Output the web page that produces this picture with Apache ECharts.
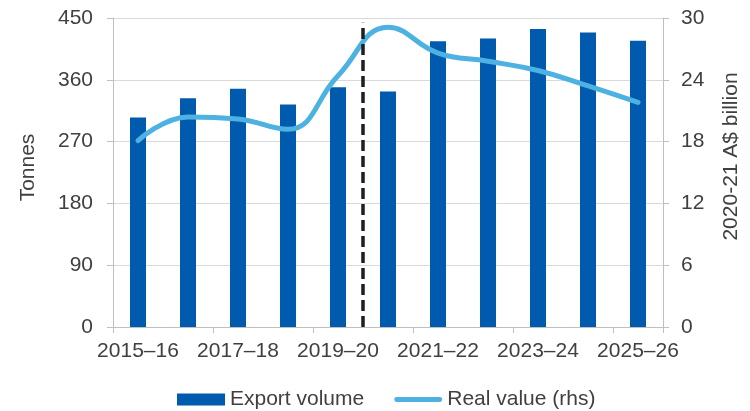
<!DOCTYPE html>
<html>
<head>
<meta charset="utf-8">
<script src="https://cdn.jsdelivr.net/npm/echarts@6/dist/echarts.min.js"></script>
<style>
  html, body { margin: 0; padding: 0; background: #fff; }
  #chart { width: 750px; height: 411px; }
</style>
</head>
<body>
<div id="chart"></div>
<script>
const categories = ['2015–16', '2016–17', '2017–18', '2018–19', '2019–20', '2020–21',
  '2021–22', '2022–23', '2023–24', '2024–25', '2025–26']
const exportVolume = [305, 333, 347, 324, 349, 343, 416, 420, 434, 429, 417]
const realValue = [18.1, 20.4, 20.2, 19.2, 24.4, 29.1, 26.6, 25.8, 24.9, 23.4, 21.8]
const leftTicks = { min: 0, max: 450, interval: 90 }
const rightTicks = { min: 0, max: 30, interval: 6 }
// forecast divider: between 2019–20 and 2020–21 (band edge 5 on a 0..11 scale)
const forecastLine = [[5, 0], [5, 443]]

const textColor = '#404040'
const font = 'Liberation Sans, Arial, sans-serif'
const lineIcon = 'path://M5,0 H95 A5,5 0 0 1 95,10 H5 A5,5 0 0 1 5,0 Z'

const chart = echarts.init(document.getElementById('chart'))

const option = {
  animation: false,
  textStyle: { fontFamily: font },
  grid: { left: 113, right: 86, top: 18, bottom: 84 },
  legend: {
    left: 172,
    top: 384,
    itemWidth: 48,
    itemHeight: 12,
    itemGap: 30,
    textStyle: { color: textColor, fontSize: 21, fontFamily: font },
    data: [
      { name: 'Export volume', icon: 'rect' },
      { name: 'Real value (rhs)', icon: lineIcon }
    ]
  },
  xAxis: [
    {
      type: 'category',
      data: categories,
      axisLine: { lineStyle: { color: '#bfbfbf', width: 1 } },
      axisTick: { show: true, lineStyle: { color: '#bfbfbf' }, length: 6 },
      axisLabel: { interval: 1, color: textColor, fontSize: 21, margin: 14 }
    },
    {
      type: 'value',
      min: 0,
      max: categories.length,
      show: false
    }
  ],
  yAxis: [
    {
      type: 'value',
      name: 'Tonnes',
      nameLocation: 'middle',
      nameGap: 74,
      nameTextStyle: { color: textColor, fontSize: 21, padding: [0, 0, 0, 10] },
      ...leftTicks,
      axisLine: { show: true, lineStyle: { color: '#bfbfbf' } },
      axisTick: { show: true, lineStyle: { color: '#bfbfbf' }, length: 6 },
      axisLabel: { color: textColor, fontSize: 21, margin: 20 },
      splitLine: { lineStyle: { color: '#d9d9d9' } }
    },
    {
      type: 'value',
      name: '2020-21 A$ billion',
      nameLocation: 'middle',
      nameGap: 58,
      nameTextStyle: { color: textColor, fontSize: 21, padding: [0, 0, 0, 32] },
      ...rightTicks,
      axisLine: { show: true, lineStyle: { color: '#bfbfbf' } },
      axisTick: { show: true, lineStyle: { color: '#bfbfbf' }, length: 6 },
      axisLabel: { color: textColor, fontSize: 21, margin: 18 },
      splitLine: { show: false }
    }
  ],
  series: [
    {
      name: 'Export volume',
      type: 'bar',
      data: exportVolume,
      barWidth: 16,
      itemStyle: { color: '#005aad' }
    },
    {
      name: 'Real value (rhs)',
      type: 'line',
      yAxisIndex: 1,
      data: realValue,
      smooth: 0.45,
      symbol: 'none',
      z: 4,
      lineStyle: { color: '#4db1e2', width: 5, cap: 'round' },
      itemStyle: { color: '#4db1e2' }
    },
    {
      name: 'forecast',
      type: 'line',
      xAxisIndex: 1,
      yAxisIndex: 0,
      data: forecastLine,
      symbol: 'none',
      silent: true,
      z: 5,
      lineStyle: { color: '#1e1e1e', type: [11, 5], width: 3.5 }
    }
  ]
}

chart.setOption(option)
window.addEventListener('resize', () => chart.resize())
</script>
</body>
</html>
